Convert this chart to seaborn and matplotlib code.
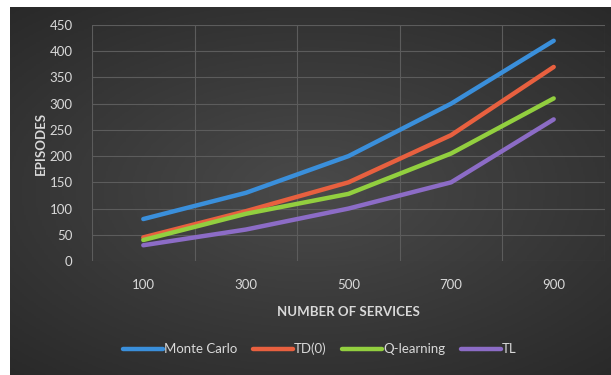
import numpy as np
import pandas as pd
import matplotlib.pyplot as plt
import seaborn as sns

# Data
services = ['100', '300', '500', '700', '900']
monte_carlo = [80, 130, 200, 300, 420]
td0 = [45, 95, 150, 240, 370]
q_learning = [40, 90, 128, 205, 310]
tl = [30, 60, 100, 150, 270]

series_names = ['Monte Carlo', 'TD(0)', 'Q-learning', 'TL']
series_colors = ['#3a8fdb', '#e8603f', '#92cf3f', '#8c6cc6']

rows = []
for name, vals in zip(series_names, [monte_carlo, td0, q_learning, tl]):
    for i, v in enumerate(vals):
        rows.append({'pos': i, 'Services': services[i], 'Episodes': v, 'Method': name})
df = pd.DataFrame(rows)

sns.set_style('dark')
plt.rcParams['font.family'] = ['Lato', 'DejaVu Sans']
fs = 9.5

fig = plt.figure(figsize=(6.11, 3.75), dpi=100, facecolor='white')

# dark radial gradient background (with the thin white border of the original)
bg = fig.add_axes([10 / 611, 0, 601 / 611, 368 / 375])
yy, xx = np.mgrid[-1:1:200j, -1:1:300j]
r = np.sqrt((xx * 0.9) ** 2 + (yy * 1.0) ** 2)
bg.imshow(r, cmap=sns.dark_palette('#4a4a4a', as_cmap=True, reverse=True),
          vmin=0.0, vmax=1.5, aspect='auto', extent=[0, 1, 0, 1])
bg.set_axis_off()

ax = fig.add_axes([92 / 611, 1 - 261 / 375, (605 - 92) / 611, (261 - 25) / 375])
ax.patch.set_alpha(0)

sns.lineplot(data=df, x='pos', y='Episodes', hue='Method', palette=series_colors,
             linewidth=3.2, ax=ax, solid_capstyle='round', legend=False)

ax.set_xlim(-0.5, 4.5)
ax.set_ylim(0, 450)
ax.set_yticks(range(0, 451, 50))
ax.set_xticks(range(len(services)))
ax.set_xticklabels(services)
ax.set_xticks(np.arange(-0.5, 4.6, 1), minor=True)
ax.grid(False)
ax.grid(True, which='minor', axis='x', color='#5c5c5c', linewidth=0.8)
ax.grid(True, which='major', axis='y', color='#5c5c5c', linewidth=0.8)
ax.tick_params(axis='both', which='both', length=0, colors='#d9d9d9', labelsize=fs)
ax.tick_params(axis='x', pad=13)
ax.tick_params(axis='y', pad=14)
for s in ax.spines.values():
    s.set_visible(False)

ax.set_xlabel('NUMBER OF SERVICES', color='#d9d9d9', fontsize=fs, fontweight='bold', labelpad=11)
ax.set_ylabel('EPISODES', color='#d9d9d9', fontsize=fs, fontweight='bold', labelpad=2)

handles = [plt.Line2D([0], [0], color=c, linewidth=3.2) for c in series_colors]
fig.legend(handles, series_names, loc='center', bbox_to_anchor=(320 / 611, 1 - 349 / 375),
           ncol=4, frameon=False, handlelength=3.0, handletextpad=0.1, columnspacing=1.2,
           fontsize=fs, labelcolor='#d9d9d9')

fig.savefig('out.png', dpi=100, facecolor='white')
